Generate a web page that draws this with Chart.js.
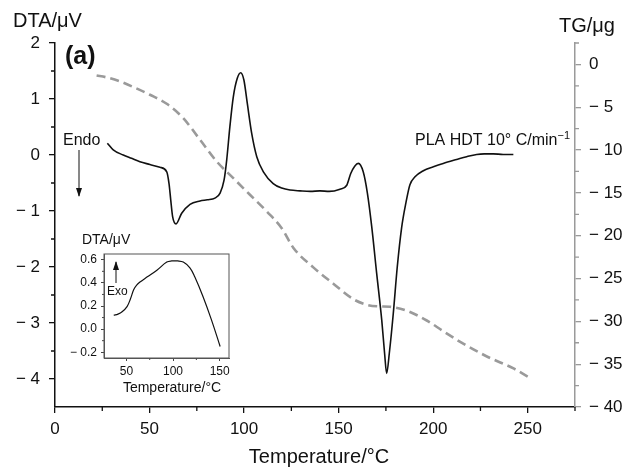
<!DOCTYPE html>
<html>
<head>
<meta charset="utf-8">
<script src="https://cdn.jsdelivr.net/npm/chart.js@4.4.1/dist/chart.umd.min.js"></script>
<style>
  body { margin: 0; background: #fff; }
  #wrap { position: relative; width: 627px; height: 471px; }
  #main { position: absolute; left: 0; top: 0; }
  #inset { position: absolute; left: 60px; top: 228px; }
</style>
</head>
<body>
<div id="wrap">
  <canvas id="main" width="627" height="471"></canvas>
  <canvas id="inset" width="180" height="175"></canvas>
</div>
<script>
// DTA curve (main), temperature in °C, signal in µV
const dtaTemp = [27.7, 30.8, 36.1, 40.5, 44.9, 50.2, 55.5, 59.1, 60.3, 61.2, 62.2, 64.0, 67.0, 71.4, 76.7, 80.5,
  84.6, 87.3, 89.4, 90.8, 92.5, 94.3, 96.4, 98.2, 99.9, 101.7, 104.0, 106.7, 110.2, 115.4, 119.9, 124.3,
  129.6, 135, 140.1, 145, 150.7, 154.3, 156.4, 158.5, 160.4, 163.0, 165.2, 167.5, 170.1, 172.8, 174.3, 175.4,
  176.8, 178.9, 181.0, 183.3, 185.6, 187.7, 190.4, 194.8, 200.1, 205.3, 212.4, 217.7, 223.0, 227, 231.8, 237, 242.4];
const dtaValue = [0.21, 0.09, 0.0, -0.06, -0.12, -0.17, -0.22, -0.30, -0.51, -0.80, -1.10, -1.23, -1.04, -0.88, -0.82, -0.80,
  -0.77, -0.68, -0.45, -0.09, 0.51, 1.04, 1.37, 1.47, 1.34, 0.92, 0.39, -0.03, -0.30, -0.51, -0.59, -0.625,
  -0.64, -0.65, -0.64, -0.65, -0.61, -0.54, -0.33, -0.20, -0.15, -0.30, -0.68, -1.28, -2.11, -2.95, -3.54, -3.90,
  -3.54, -2.83, -2.0, -1.30, -0.85, -0.53, -0.39, -0.28, -0.21, -0.15, -0.08, -0.03, 0.01, 0.02, 0.02, 0.01, 0.01];

// TG curve, mass change in µg
const tgTemp = [22, 27, 34.4, 42, 50.2, 59.1, 67.8, 76.7, 85.5, 94.3, 103.1, 112.0, 119.9, 126.0, 136.6, 147.2,
  157.7, 164.8, 171, 177.2, 186.0, 196.6, 205, 214.3, 228.4, 242.5, 250.4];
const tgValue = [-1.29, -1.5, -1.99, -2.7, -3.54, -4.6, -6.27, -8.8, -11.33, -13.28, -15.22, -17.17, -19.12, -21.4, -23.7, -25.6,
  -27.4, -28.06, -28.25, -28.3, -28.75, -29.9, -31.1, -32.4, -34.1, -35.5, -36.5];

// inset DTA curve
const insetTemp = [36.4, 41, 45.4, 50.7, 54.3, 57.8, 61, 65, 72, 82.7, 93.3, 98.6, 105, 111, 118.1, 123.4, 132.2, 141.2, 150.5];
const insetValue = [0.12, 0.13, 0.15, 0.195, 0.26, 0.34, 0.38, 0.41, 0.45, 0.51, 0.58, 0.59, 0.59, 0.58, 0.53, 0.45, 0.28, 0.08, -0.15];

const xMinor = [25, 75, 125, 175, 225, 275];
const dtaMinor = [1.5, 0.5, -0.5, -1.5, -2.5, -3.5];
const tgMinor = [2.5, -2.5, -7.5, -12.5, -17.5, -22.5, -27.5, -32.5, -37.5];
const insetXMinor = [75, 125];
const insetYMinor = [0.5, 0.3, 0.1, -0.1];

const FONT = "'Liberation Sans', Arial, sans-serif";
const GREY = '#9a9a9a';

function fmt(v, d) {
  const s = Math.abs(v).toFixed(d);
  return v < -1e-9 ? '\u2212 ' + s : s;
}

// short outward ticks between the labelled ones
const minorTicks = {
  id: 'minorTicks',
  afterDraw(chart, args, opts) {
    const ctx = chart.ctx;
    (opts.list || []).forEach(m => {
      const s = chart.scales[m.axis];
      ctx.save();
      ctx.strokeStyle = m.color;
      ctx.lineWidth = m.width || 1;
      ctx.beginPath();
      m.values.forEach(v => {
        const p = s.getPixelForValue(v);
        if (s.isHorizontal()) { ctx.moveTo(p, s.top); ctx.lineTo(p, s.top + m.len); }
        else if (s.position === 'left') { ctx.moveTo(s.right, p); ctx.lineTo(s.right - m.len, p); }
        else { ctx.moveTo(s.left, p); ctx.lineTo(s.left + m.len, p); }
      });
      ctx.stroke();
      ctx.restore();
    });
  }
};

// free text, arrows and frame
const notes = {
  id: 'notes',
  afterDraw(chart, args, opts) {
    const ctx = chart.ctx;
    ctx.save();
    if (opts.frame) {
      const a = chart.chartArea;
      ctx.strokeStyle = opts.frame;
      ctx.lineWidth = 1;
      ctx.strokeRect(a.left, a.top, a.right - a.left, a.bottom - a.top);
    }
    (opts.texts || []).forEach(t => {
      ctx.font = t.font;
      ctx.fillStyle = '#111';
      ctx.textAlign = t.align || 'left';
      ctx.textBaseline = 'middle';
      ctx.fillText(t.text, t.x, t.y);
      if (t.sup) {
        ctx.textAlign = 'left';
        ctx.font = t.supFont;
        ctx.fillText(t.sup, t.x, t.y - 5);
      }
    });
    (opts.arrows || []).forEach(r => {
      ctx.strokeStyle = '#111';
      ctx.fillStyle = '#111';
      ctx.lineWidth = 1;
      ctx.beginPath();
      ctx.moveTo(r.x, r.y1);
      ctx.lineTo(r.x, r.y2);
      ctx.stroke();
      const dir = r.y2 > r.y1 ? 1 : -1;
      ctx.beginPath();
      ctx.moveTo(r.x, r.y2 + dir * 1);
      ctx.lineTo(r.x - 3, r.y2 - dir * 8);
      ctx.lineTo(r.x + 3, r.y2 - dir * 8);
      ctx.closePath();
      ctx.fill();
    });
    ctx.restore();
  }
};

// superscript after the label: keep the whole string ending at x = 570
const mctx = document.getElementById('main').getContext('2d');
mctx.font = '11px ' + FONT;
const supW = mctx.measureText('\u22121').width;

new Chart(document.getElementById('main'), {
  type: 'line',
  data: {
    datasets: [
      {
        data: dtaTemp.map((t, i) => ({ x: t, y: dtaValue[i] })),
        yAxisID: 'y',
        borderColor: '#111',
        borderWidth: 1.6,
        pointRadius: 0,
        cubicInterpolationMode: 'monotone'
      },
      {
        data: tgTemp.map((t, i) => ({ x: t, y: tgValue[i] })),
        yAxisID: 'y2',
        borderColor: GREY,
        borderWidth: 2.6,
        borderDash: [9, 5],
        pointRadius: 0,
        cubicInterpolationMode: 'monotone'
      }
    ]
  },
  options: {
    responsive: false,
    animation: false,
    layout: { padding: { top: 43, left: 0, right: 0, bottom: 0 } },
    plugins: {
      legend: { display: false },
      tooltip: { enabled: false },
      minorTicks: {
        list: [
          { axis: 'x', values: xMinor, len: 4, color: '#111', width: 1.3 },
          { axis: 'y', values: dtaMinor, len: 4, color: '#111', width: 1.3 },
          { axis: 'y2', values: tgMinor, len: 4, color: GREY, width: 1.3 }
        ]
      },
      notes: {
        texts: [
          { text: 'DTA/\u03bcV', x: 13, y: 21, font: '20px ' + FONT },
          { text: 'TG/\u03bcg', x: 559, y: 26, font: '20px ' + FONT },
          { text: '(a)', x: 65, y: 57, font: 'bold 25px ' + FONT },
          { text: 'Endo', x: 63, y: 141, font: '16px ' + FONT },
          { text: 'PLA HDT 10\u00b0 C/min', x: 570 - supW, y: 141, font: '16px ' + FONT, align: 'right',
            sup: '\u22121', supFont: '11px ' + FONT },
          { text: 'Temperature/\u00b0C', x: 319, y: 457, font: '20px ' + FONT, align: 'center' }
        ],
        arrows: [ { x: 79, y1: 150, y2: 196 } ]
      }
    },
    scales: {
      x: {
        type: 'linear',
        min: 0,
        max: 275,
        afterFit: s => { s.height = 64; },
        border: { color: '#111', width: 1.5 },
        grid: { drawOnChartArea: false, tickLength: 6, color: '#111', lineWidth: 1.3 },
        ticks: { stepSize: 50, includeBounds: false, padding: 6, color: '#111',
          font: { family: FONT, size: 17 }, maxRotation: 0, callback: v => fmt(v, 0) }
      },
      y: {
        position: 'left',
        min: -4.5,
        max: 2,
        afterFit: s => { s.width = 55; },
        border: { color: '#111', width: 1.5 },
        grid: { drawOnChartArea: false, tickLength: 6, color: '#111', lineWidth: 1.3 },
        ticks: { stepSize: 1, includeBounds: false, padding: 9, color: '#111',
          font: { family: FONT, size: 17 }, callback: v => fmt(v, 0) }
      },
      y2: {
        position: 'right',
        min: -40,
        max: 2.5,
        afterFit: s => { s.width = 52; },
        border: { color: GREY, width: 1.5 },
        grid: { drawOnChartArea: false, tickLength: 6, color: GREY, lineWidth: 1.3 },
        ticks: { stepSize: 5, includeBounds: false, padding: 8, color: '#111',
          font: { family: FONT, size: 17 }, callback: v => fmt(v, 0) }
      }
    }
  },
  plugins: [minorTicks, notes]
});

new Chart(document.getElementById('inset'), {
  type: 'line',
  data: {
    datasets: [{
      data: insetTemp.map((t, i) => ({ x: t, y: insetValue[i] })),
      borderColor: '#111',
      borderWidth: 1.2,
      pointRadius: 0,
      tension: 0.4
    }]
  },
  options: {
    responsive: false,
    animation: false,
    layout: { padding: { top: 26, left: 0, right: 11, bottom: 0 } },
    plugins: {
      legend: { display: false },
      tooltip: { enabled: false },
      minorTicks: {
        list: [
          { axis: 'x', values: insetXMinor, len: 2, color: '#444' },
          { axis: 'y', values: insetYMinor, len: 2, color: '#444' }
        ]
      },
      notes: {
        frame: '#555',
        texts: [
          { text: 'DTA/\u03bcV', x: 22, y: 12, font: '14px ' + FONT },
          { text: 'Exo', x: 47, y: 64, font: '12px ' + FONT },
          { text: 'Temperature/\u00b0C', x: 112, y: 160, font: '14px ' + FONT, align: 'center' }
        ],
        arrows: [ { x: 56, y1: 55, y2: 34 } ]
      }
    },
    scales: {
      x: {
        type: 'linear',
        min: 26,
        max: 160,
        afterFit: s => { s.height = 45; },
        border: { color: '#555', width: 1 },
        grid: { drawOnChartArea: false, tickLength: 3, color: '#444' },
        ticks: { stepSize: 50, includeBounds: false, padding: 3, color: '#111',
          font: { family: FONT, size: 12 }, maxRotation: 0, callback: v => fmt(v, 0) }
      },
      y: {
        min: -0.25,
        max: 0.65,
        afterFit: s => { s.width = 44; },
        border: { color: '#555', width: 1 },
        grid: { drawOnChartArea: false, tickLength: 3, color: '#444' },
        ticks: { stepSize: 0.2, includeBounds: false, padding: 4, color: '#111',
          font: { family: FONT, size: 12 }, callback: v => fmt(v, 1) }
      }
    }
  },
  plugins: [minorTicks, notes]
});
</script>
</body>
</html>
